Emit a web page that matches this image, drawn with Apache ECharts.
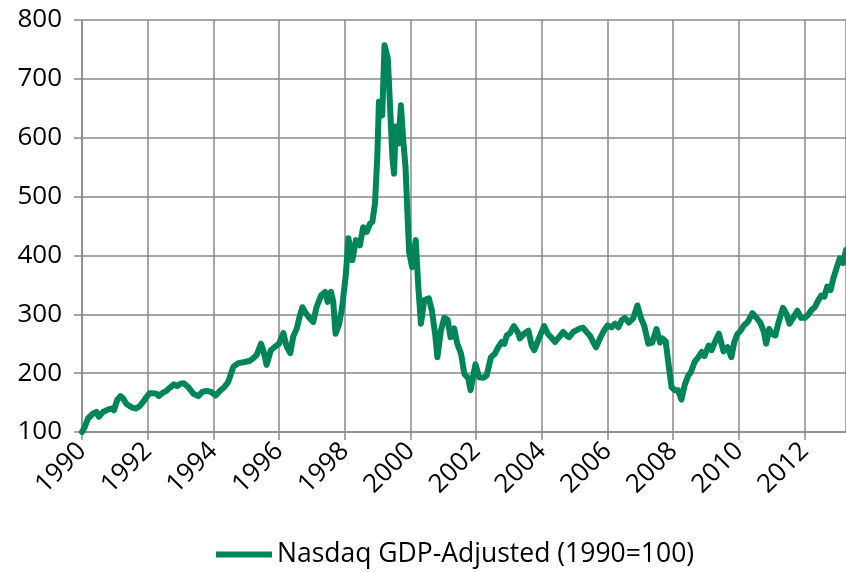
<!DOCTYPE html>
<html>
<head>
<meta charset="utf-8">
<title>Nasdaq GDP-Adjusted</title>
<script src="https://cdn.jsdelivr.net/npm/echarts@6/dist/echarts.min.js"></script>
<style>
  html, body { margin: 0; padding: 0; background: #fff; }
  #chart { width: 846px; height: 572px; }
</style>
</head>
<body>
<div id="chart"></div>
<script>
// values, decimal year / index level (1990=100)
var years = [
  1990.00, 1990.08, 1990.18, 1990.33, 1990.44, 1990.51, 1990.64, 1990.79, 1990.89, 1990.97,
  1991.07, 1991.17, 1991.25, 1991.35, 1991.45, 1991.55, 1991.65, 1991.76, 1991.86, 1991.96,
  1992.06, 1992.16, 1992.26, 1992.34, 1992.44, 1992.57, 1992.67, 1992.80, 1992.90, 1993.00,
  1993.10, 1993.24, 1993.39, 1993.54, 1993.66, 1993.80, 1993.93, 1994.07, 1994.20, 1994.33,
  1994.45, 1994.61, 1994.76, 1994.96, 1995.11, 1995.21, 1995.32, 1995.45, 1995.52, 1995.62,
  1995.75, 1995.90, 1996.00, 1996.13, 1996.23, 1996.34, 1996.43, 1996.54, 1996.62, 1996.71,
  1996.79, 1996.89, 1997.04, 1997.14, 1997.28, 1997.40, 1997.48, 1997.58, 1997.65, 1997.72,
  1997.83, 1997.92, 1998.03, 1998.11, 1998.23, 1998.34, 1998.46, 1998.56, 1998.67, 1998.77,
  1998.84, 1998.92, 1998.99, 1999.04, 1999.14, 1999.21, 1999.31, 1999.38, 1999.45, 1999.50,
  1999.55, 1999.63, 1999.71, 1999.78, 1999.85, 1999.93, 1999.96, 2000.05, 2000.16, 2000.24,
  2000.32, 2000.42, 2000.56, 2000.65, 2000.75, 2000.82, 2000.93, 2001.03, 2001.13, 2001.22,
  2001.33, 2001.42, 2001.54, 2001.64, 2001.76, 2001.83, 2001.91, 2001.98, 2002.09, 2002.22,
  2002.32, 2002.45, 2002.57, 2002.67, 2002.78, 2002.86, 2002.93, 2003.03, 2003.15, 2003.28,
  2003.33, 2003.46, 2003.59, 2003.69, 2003.77, 2003.89, 2003.97, 2004.07, 2004.18, 2004.28,
  2004.40, 2004.52, 2004.65, 2004.75, 2004.83, 2004.96, 2005.06, 2005.16, 2005.26, 2005.36,
  2005.46, 2005.56, 2005.65, 2005.77, 2005.90, 2006.00, 2006.12, 2006.23, 2006.33, 2006.43,
  2006.53, 2006.65, 2006.78, 2006.91, 2007.02, 2007.12, 2007.24, 2007.36, 2007.49, 2007.60,
  2007.67, 2007.77, 2007.87, 2007.95, 2008.05, 2008.15, 2008.25, 2008.35, 2008.45, 2008.54,
  2008.65, 2008.75, 2008.87, 2008.95, 2009.08, 2009.17, 2009.27, 2009.39, 2009.45, 2009.53,
  2009.66, 2009.77, 2009.86, 2009.95, 2010.05, 2010.15, 2010.27, 2010.41, 2010.52, 2010.65,
  2010.75, 2010.83, 2010.92, 2011.00, 2011.11, 2011.20, 2011.34, 2011.45, 2011.54, 2011.64,
  2011.78, 2011.89, 2012.01, 2012.12, 2012.22, 2012.31, 2012.42, 2012.51, 2012.60, 2012.69,
  2012.79, 2012.88, 2012.97, 2013.07, 2013.17, 2013.26
];
var nasdaq = [
  100, 108, 123, 131, 134, 126, 134, 138, 140, 137,
  154, 161, 157, 148, 144, 141, 140, 144, 151, 159,
  166, 166, 165, 161, 166, 170, 175, 181, 178, 182,
  183, 176, 165, 161, 168, 170, 168, 162, 170, 176,
  185, 211, 217, 219, 221, 225, 231, 250, 239, 214,
  239, 246, 250, 268, 245, 234, 262, 276, 295, 312,
  304, 296, 287, 312, 332, 338, 321, 338, 321, 267,
  284, 312, 366, 429, 392, 426, 417, 448, 440, 454,
  457, 488, 567, 661, 638, 757, 735, 652, 567, 539,
  619, 590, 655, 596, 550, 443, 406, 380, 426, 346,
  284, 324, 327, 307, 267, 227, 273, 294, 291, 261,
  276, 251, 233, 199, 191, 171, 196, 215, 193, 192,
  196, 227, 233, 244, 253, 250, 264, 268, 280, 268,
  259, 267, 272, 247, 239, 256, 267, 280, 267, 261,
  253, 261, 270, 264, 261, 270, 273, 276, 277, 270,
  264, 253, 244, 259, 273, 281, 278, 284, 278, 290,
  294, 286, 293, 315, 293, 280, 250, 252, 275, 252,
  259, 254, 210, 176, 171, 171, 155, 180, 195, 202,
  219, 226, 236, 229, 247, 239, 253, 267, 270, 237,
  244, 227, 253, 266, 272, 281, 287, 302, 295, 286,
  272, 250, 275, 267, 264, 285, 311, 300, 284, 293,
  306, 294, 294, 300, 308, 312, 324, 332, 330, 347,
  341, 362, 378, 395, 387, 409
];
var yTicks = { min: 100, max: 800, step: 100 };
var xTicks = { min: 1990, max: 2013.26, step: 2 };
var seriesName = 'Nasdaq GDP-Adjusted (1990=100)';

var points = [];
for (var i = 0; i < years.length; i++) {
  points.push([years[i], nasdaq[i]]);
}

var font = '"Open Sans", "Noto Sans", sans-serif';
var gridGray = '#8a8a8a';

var chart = echarts.init(document.getElementById('chart'));
chart.setOption({
  animation: false,
  textStyle: { fontFamily: font },
  grid: { left: 82, right: -1, top: 20, bottom: 140, containLabel: false },
  legend: {
    left: 211,
    top: 536,
    icon: 'rect',
    itemWidth: 56,
    itemHeight: 6,
    itemGap: 10,
    textStyle: { fontFamily: font, fontSize: 26.5, color: '#000' },
    data: [seriesName]
  },
  xAxis: {
    type: 'value',
    min: xTicks.min,
    max: xTicks.max,
    interval: xTicks.step,
    axisLine: { show: true, lineStyle: { color: gridGray, width: 1.5 } },
    axisTick: { show: true, length: 8, lineStyle: { color: gridGray, width: 1.5 } },
    splitLine: { show: true, lineStyle: { color: gridGray, width: 1.5 } },
    axisLabel: {
      rotate: 45,
      margin: 15,
      fontSize: 26,
      color: '#000',
      fontFamily: font,
      showMaxLabel: false,
      formatter: function (v) {
        return (Math.abs(v - Math.round(v)) < 1e-6 && Math.round(v) % 2 === 0) ? String(Math.round(v)) : '';
      }
    }
  },
  yAxis: {
    type: 'value',
    min: yTicks.min,
    max: yTicks.max,
    interval: yTicks.step,
    axisLine: { show: true, lineStyle: { color: gridGray, width: 1.5 } },
    axisTick: { show: true, length: 8, lineStyle: { color: gridGray, width: 1.5 } },
    splitLine: { show: true, lineStyle: { color: gridGray, width: 1.5 } },
    axisLabel: { margin: 20, fontSize: 26, color: '#000', fontFamily: font }
  },
  series: [
    {
      name: seriesName,
      type: 'line',
      data: points,
      showSymbol: false,
      symbol: 'none',
      lineStyle: { color: '#00845a', width: 6, join: 'round', cap: 'round' },
      itemStyle: { color: '#00845a' }
    }
  ]
});
</script>
</body>
</html>
